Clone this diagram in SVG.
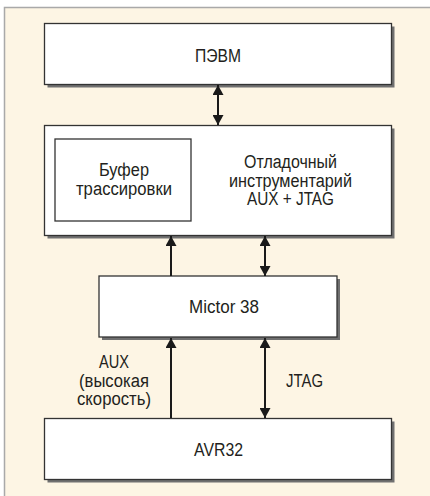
<svg xmlns="http://www.w3.org/2000/svg" width="430" height="496" viewBox="0 0 430 496">
<defs>
<marker id="ah" viewBox="0 0 10 11" refX="10" refY="5.5" markerWidth="10" markerHeight="11" markerUnits="userSpaceOnUse" orient="auto-start-reverse">
<path d="M0,0 L10,5.5 L0,11 Z" fill="#1a1a1a"/>
</marker>
</defs>
<style>
.box{fill:#ffffff;stroke:#333333;stroke-width:1.3}
.shadow{fill:#707070}
.t{font-family:"Liberation Sans",Arial,sans-serif;font-size:18px;fill:#231f20}
.c{stroke:#1a1a1a;stroke-width:2;fill:none}
</style>
<rect x="4.5" y="7.5" width="440" height="500" fill="#fdf5e4" stroke="#a9a9a9" stroke-width="1.5"/>
<g id="pevm">
<rect class="shadow" x="47.5" y="26.5" width="347" height="61"/>
<rect class="box" x="44.5" y="23.5" width="347" height="61"/>
<text class="t" x="218" y="62" text-anchor="middle" textLength="46" lengthAdjust="spacingAndGlyphs">ПЭВМ</text>
</g>
<g id="debug">
<rect class="shadow" x="47.5" y="128.5" width="347" height="110"/>
<rect class="box" x="44.5" y="125.5" width="347" height="110"/>
<text class="t" x="290.5" y="168" text-anchor="middle" textLength="93" lengthAdjust="spacingAndGlyphs">Отладочный</text>
<text class="t" x="290.5" y="187" text-anchor="middle" textLength="123" lengthAdjust="spacingAndGlyphs">инструментарий</text>
<text class="t" x="290.5" y="205" text-anchor="middle" textLength="87" lengthAdjust="spacingAndGlyphs">AUX + JTAG</text>
</g>
<g id="buffer">
<rect class="box" x="55" y="139" width="136" height="82"/>
<text class="t" x="124" y="176" text-anchor="middle" textLength="50" lengthAdjust="spacingAndGlyphs">Буфер</text>
<text class="t" x="124" y="195" text-anchor="middle" textLength="96" lengthAdjust="spacingAndGlyphs">трассировки</text>
</g>
<g id="mictor">
<rect class="shadow" x="102" y="279" width="238" height="61"/>
<rect class="box" x="99" y="276" width="238" height="61"/>
<text class="t" x="224" y="313" text-anchor="middle" textLength="70" lengthAdjust="spacingAndGlyphs">Mictor 38</text>
</g>
<g id="avr32">
<rect class="shadow" x="47.5" y="421.5" width="347" height="61"/>
<rect class="box" x="44.5" y="418.5" width="347" height="61"/>
<text class="t" x="218.5" y="456" text-anchor="middle" textLength="49" lengthAdjust="spacingAndGlyphs">AVR32</text>
</g>
<g id="connectors">
<line class="c" x1="218" y1="85" x2="218" y2="125" marker-start="url(#ah)" marker-end="url(#ah)"/>
<line class="c" x1="171" y1="276" x2="171" y2="236" marker-end="url(#ah)"/>
<line class="c" x1="265" y1="236" x2="265" y2="276" marker-start="url(#ah)" marker-end="url(#ah)"/>
<line class="c" x1="171" y1="418" x2="171" y2="338" marker-end="url(#ah)"/>
<line class="c" x1="265" y1="338" x2="265" y2="418" marker-start="url(#ah)" marker-end="url(#ah)"/>
</g>
<g id="labels">
<text class="t" x="114" y="368" text-anchor="middle" textLength="30" lengthAdjust="spacingAndGlyphs">AUX</text>
<text class="t" x="114" y="387" text-anchor="middle" textLength="70" lengthAdjust="spacingAndGlyphs">(высокая</text>
<text class="t" x="114" y="405" text-anchor="middle" textLength="74" lengthAdjust="spacingAndGlyphs">скорость)</text>
<text class="t" x="286" y="387" textLength="37" lengthAdjust="spacingAndGlyphs">JTAG</text>
</g>
</svg>
